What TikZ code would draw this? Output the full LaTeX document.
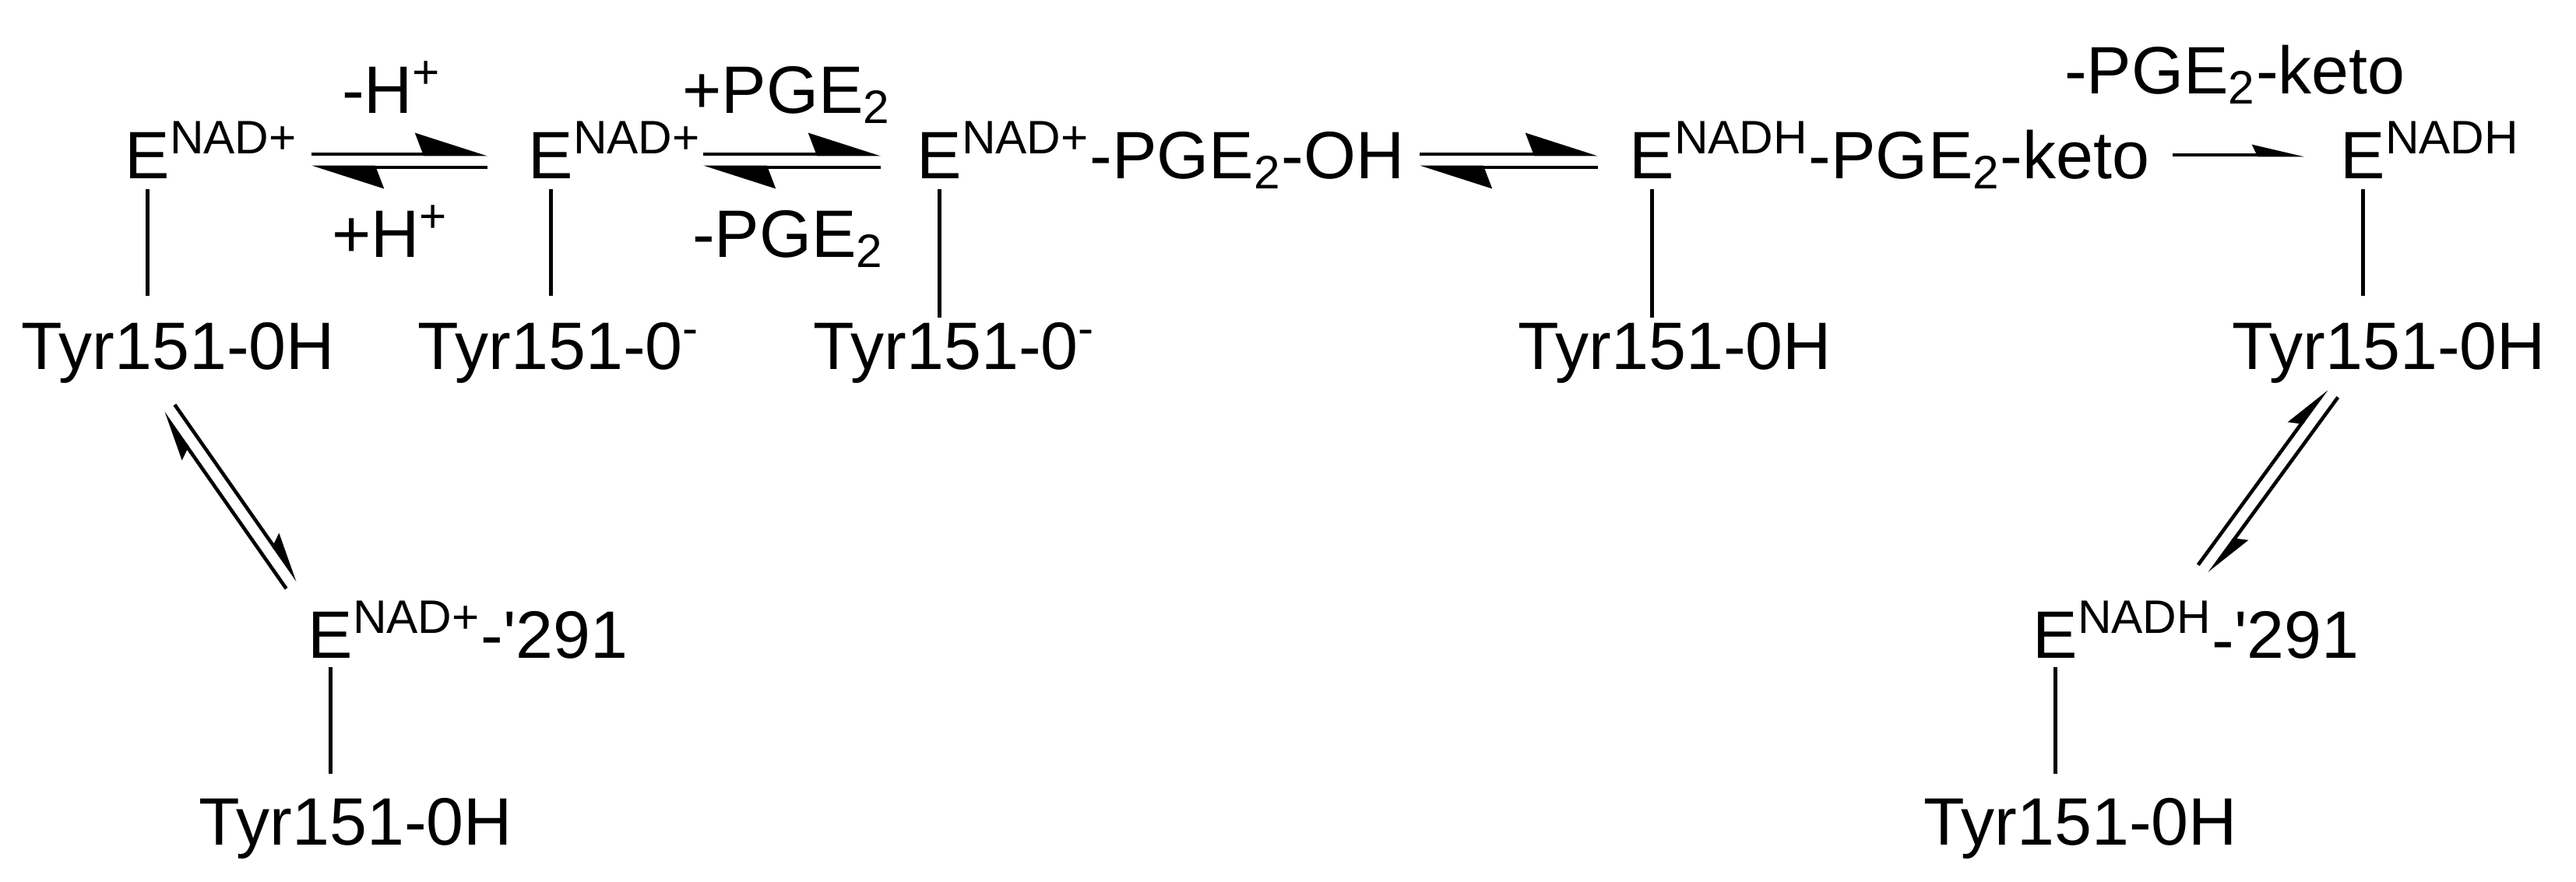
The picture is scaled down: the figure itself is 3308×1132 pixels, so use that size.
\documentclass[tikz,border=0pt]{standalone}
\usepackage{fontspec}
\setmainfont{Liberation Sans}
\usetikzlibrary{arrows.meta,calc}
\newcommand\eqarr[4][]{%
  \draw[#1] ($(#2)!#4!90:(#3)$) -- ($(#3)!#4!-90:(#2)$);
  \draw[#1] ($(#3)!#4!90:(#2)$) -- ($(#2)!#4!-90:(#3)$);}
\begin{document}
\begin{tikzpicture}[x=0.01cm,y=-0.01cm,
  chem/.style={inner sep=0pt, font=\fontsize{24.5}{29}\selectfont},
  sp/.style={chem, anchor=base west},
  lab/.style={chem, anchor=base},
  bond/.style={line width=1.2pt},
  bigharp/.style={line width=1.4pt, -{Stealth[harpoon, length=0.85cm, width=0.54cm, inset=0.1cm]}},
  smallharp/.style={line width=1.3pt, -{Stealth[harpoon, length=0.55cm, width=0.30cm, inset=0.08cm]}},
  fwdharp/.style={line width=1.4pt, -{Stealth[harpoon, length=0.57cm, width=0.26cm, inset=0.06cm]}}]
\useasboundingbox (0,0) rectangle (3308,1132);

% species (E letter is the node; the rest hangs to the right)
\node[sp] (e1) at (160,229) {E\rlap{\textsuperscript{NAD+}}};
\node[sp] (e2) at (678,229) {E\rlap{\textsuperscript{NAD+}}};
\node[sp] (e3) at (1177,229) {E\rlap{\textsuperscript{NAD+}-PGE\textsubscript{2}-OH}};
\node[sp] (e4) at (2092,229) {E\rlap{\textsuperscript{NADH}-PGE\textsubscript{2}-keto}};
\node[sp] (e5) at (3005,229) {E\rlap{\textsuperscript{NADH}}};
\node[sp] (e6) at (395,845) {E\rlap{\textsuperscript{NAD+}-\textquotesingle 291}};
\node[sp] (e7) at (2610,845) {E\rlap{\textsuperscript{NADH}\raisebox{-0.08em}{-}\textquotesingle 291}};

% Tyr residues
\node[sp] (t1) at (27,474) {Tyr151-0H};
\node[sp] (t2) at (536,474) {Tyr151-0\textsuperscript{-}};
\node[sp] (t3) at (1044,474) {Tyr151-0\textsuperscript{-}};
\node[sp] (t4) at (1949,474) {Tyr151-0H};
\node[sp] (t5) at (2866,474) {Tyr151-0H};
\node[sp] (t6) at (255,1085) {Tyr151-0H};
\node[sp] (t7) at (2470,1085) {Tyr151-0H};

% bonds
\draw[bond] ($(e1.base)+(0,14)$) -- ($(e1.base |- t1.north)+(0,-33)$);
\draw[bond] ($(e2.base)+(0,14)$) -- ($(e2.base |- t2.north)+(0,-33)$);
\draw[bond] ($(e3.base)+(0,14)$) -- ($(e3.base |- t3.north)+(0,-5)$);
\draw[bond] ($(e4.base)+(0,14)$) -- ($(e4.base |- t4.north)+(0,-5)$);
\draw[bond] ($(e5.base)+(0,14)$) -- ($(e5.base |- t5.north)+(0,-33)$);
\draw[bond] ($(e6.base)+(0,12)$) -- ($(e6.base |- t6.north)+(0,-30)$);
\draw[bond] ($(e7.base)+(0,12)$) -- ($(e7.base |- t7.north)+(0,-30)$);

% arrow labels
\node[lab] (l1) at (503,145) {-H\textsuperscript{+}};
\node[lab] (l2) at (501,330) {+H\textsuperscript{+}};
\node[lab] (l3) at (1010,145) {+PGE\textsubscript{2}};
\node[lab] (l4) at (1012,330) {-PGE\textsubscript{2}};
\node[lab] (l5) at (2870,120) {-PGE\textsubscript{2}-keto};

% arrow end points
\coordinate (a1w) at (400,206.5);  \coordinate (a1e) at (626,206.5);
\coordinate (a2w) at (903,206.5);  \coordinate (a2e) at (1131,206.5);
\coordinate (a3w) at (1823,206.5); \coordinate (a3e) at (2052,206.5);
\coordinate (a4w) at (2790,199);   \coordinate (a4e) at (2960,199);
\coordinate (d1a) at (217,525);    \coordinate (d1b) at (375,751);
\coordinate (d2a) at (2995,505);   \coordinate (d2b) at (2830,731);

\eqarr[bigharp]{a1w}{a1e}{0.085cm}
\eqarr[bigharp]{a2w}{a2e}{0.085cm}
\eqarr[bigharp]{a3w}{a3e}{0.085cm}
\draw[fwdharp] (a4w) -- (a4e);
\eqarr[smallharp]{d1a}{d1b}{0.09cm}
\eqarr[smallharp]{d2a}{d2b}{0.09cm}
\end{tikzpicture}
\end{document}
